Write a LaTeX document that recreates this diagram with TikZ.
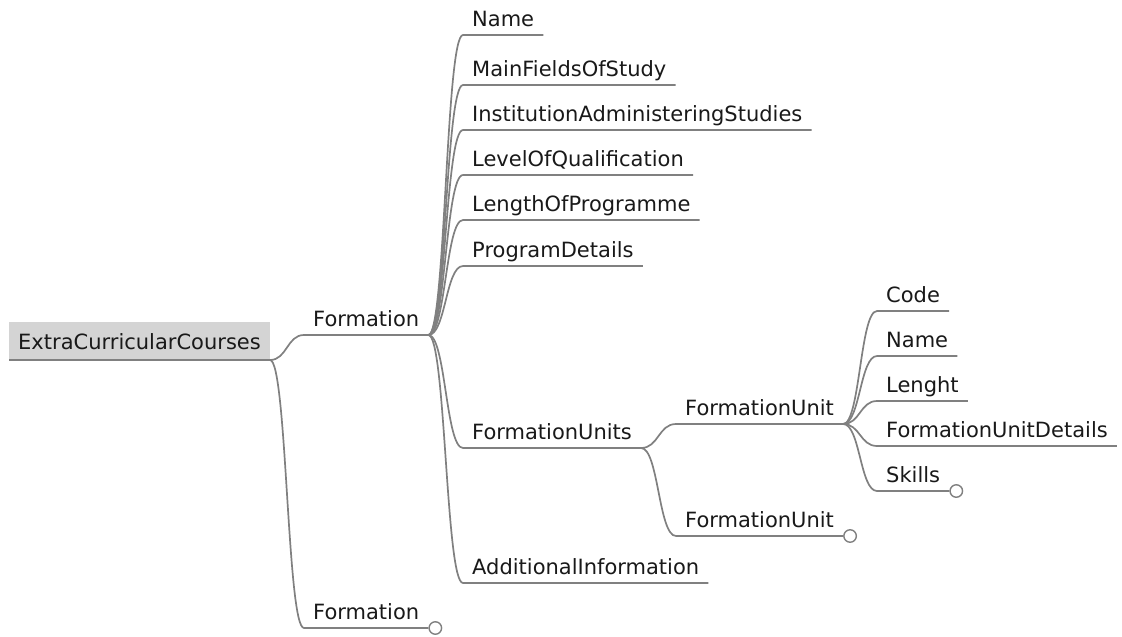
\documentclass[tikz,border=0pt]{standalone}
\usepackage{fontspec}
\setmainfont{DejaVu Sans}
\usetikzlibrary{calc}
\definecolor{edgegray}{RGB}{128,128,128}
\definecolor{rootfill}{RGB}{212,212,212}
\definecolor{inkgray}{RGB}{25,25,25}
% curved branch from the end of a parent's underline to the start of a child's underline
\newcommand\mmedge[2]{%
  \draw[edgeline] let \p1=(#1.south east), \p2=(#2.south west), \n1={(\x2-\x1)/2} in
    (\p1) .. controls +(\n1,0pt) and +(-\n1,0pt) .. (\p2) -- (#2.south east);}
\begin{document}
\begin{tikzpicture}[x=1pt, y=-1pt,
  font=\fontsize{21}{25}\selectfont,
  item/.style={anchor=south west, inner xsep=9pt, inner ysep=8pt, text depth=0pt, text=inkgray},
  rootbox/.style={anchor=south west, fill=rootfill, inner xsep=9pt, inner ysep=10pt,
    text height=18pt, text depth=0pt, text=inkgray},
  edgeline/.style={draw=edgegray, line width=1.7pt},
  foldmark/.style={circle, draw=edgegray, fill=white, line width=1.4pt,
    minimum size=12.5pt, inner sep=0pt, anchor=west}]
\useasboundingbox (0,0) rectangle (1122,637);

% root
\node[rootbox] (root) at (9,360) {ExtraCurricularCourses};
\draw[edgeline] (root.south west) -- (root.south east);

% first level
\node[item] (f1) at (304,335) {Formation};
\node[item] (f2) at (304,628) {Formation};

% children of the first Formation
\node[item] (name)   at (463,35)  {Name};
\node[item] (mfs)    at (463,85)  {MainFieldsOfStudy};
\node[item] (ias)    at (463,130) {InstitutionAdministeringStudies};
\node[item] (loq)    at (463,175) {LevelOfQualification};
\node[item] (lop)    at (463,220) {LengthOfProgramme};
\node[item] (pd)     at (463,266) {ProgramDetails};
\node[item] (fus)    at (463,448) {FormationUnits};
\node[item] (ai)     at (463,583) {AdditionalInformation};

% formation units
\node[item] (fu1) at (676,424) {FormationUnit};
\node[item] (fu2) at (676,536) {FormationUnit};

% children of the first FormationUnit
\node[item] (code)   at (877,311) {Code};
\node[item] (uname)  at (877,356) {Name};
\node[item] (len)    at (877,401) {Lenght};
\node[item] (fud)    at (877,446) {FormationUnitDetails};
\node[item] (skills) at (877,491) {Skills};

% branches
\mmedge{root}{f1}
\mmedge{root}{f2}
\foreach \c in {name,mfs,ias,loq,lop,pd,fus,ai} {\mmedge{f1}{\c}}
\mmedge{fus}{fu1}
\mmedge{fus}{fu2}
\foreach \c in {code,uname,len,fud,skills} {\mmedge{fu1}{\c}}

% folded-branch markers
\node[foldmark] (f2fold)     at (f2.south east) {};
\node[foldmark] (fu2fold)    at (fu2.south east) {};
\node[foldmark] (skillsfold) at (skills.south east) {};
\end{tikzpicture}
\end{document}
